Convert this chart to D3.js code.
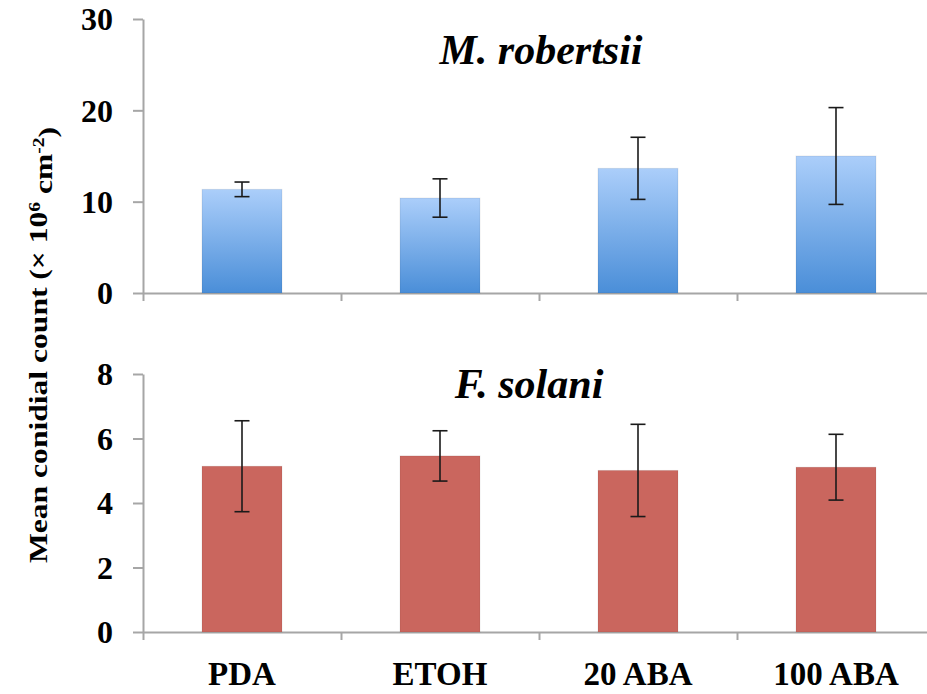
<!DOCTYPE html>
<html>
<head>
<meta charset="utf-8">
<script src="https://cdn.jsdelivr.net/npm/d3@7"></script>
<style>
  body { margin: 0; background: #fff; }
  svg text { font-family: "Liberation Serif", "Times New Roman", serif; font-weight: bold; fill: #000; }
</style>
</head>
<body>
<div id="chart"></div>
<script>
const categories = ["PDA", "ETOH", "20 ABA", "100 ABA"]

const robertsiiMean = [11.35, 10.4, 13.65, 15.0]
const robertsiiErr = [0.8, 2.1, 3.4, 5.3]
const robertsiiTicks = [0, 10, 20, 30]

const solaniMean = [5.14, 5.46, 5.01, 5.11]
const solaniErr = [1.41, 0.78, 1.43, 1.02]
const solaniTicks = [0, 2, 4, 6, 8]

const width = 927
const height = 694
const left = 143
const right = 935

const svg = d3.select("#chart").append("svg")
    .attr("width", width)
    .attr("height", height)

const defs = svg.append("defs")
const grad = defs.append("linearGradient")
    .attr("id", "blueGrad")
    .attr("x1", 0).attr("y1", 0).attr("x2", 0).attr("y2", 1)
grad.append("stop").attr("offset", "0%").attr("stop-color", "#abcefa")
grad.append("stop").attr("offset", "100%").attr("stop-color", "#4a8ed8")

const x = d3.scaleBand()
    .domain(categories)
    .range([left, right])
    .padding(0)

const xIdx = d3.scaleLinear()
    .domain([0, categories.length])
    .range([left, right])

const barW = x.bandwidth() * 0.404

function panel(opts) {
    const y = d3.scaleLinear()
        .domain([0, d3.max(opts.ticks)])
        .range([opts.bottom, opts.top])

    const g = svg.append("g")

    const yAxis = d3.axisLeft(y)
        .tickValues(opts.ticks)
        .tickSizeInner(10)
        .tickSizeOuter(0)
        .tickPadding(20)

    g.append("g")
        .attr("class", "y-axis")
        .attr("transform", `translate(${left},0)`)
        .call(yAxis)

    g.append("g")
        .attr("class", "x-axis")
        .attr("transform", `translate(0,${opts.bottom})`)
        .call(d3.axisBottom(xIdx)
            .tickValues(d3.range(categories.length + 1))
            .tickFormat("")
            .tickSizeInner(8)
            .tickSizeOuter(0))

    g.selectAll(".domain, .tick line")
        .attr("stroke", "#a6a6a6")
        .attr("stroke-width", 2)
    g.selectAll(".y-axis text")
        .style("font-size", "32px")
        .attr("dy", "0.34em")

    const data = categories.map((c, i) => ({ c, v: opts.mean[i], e: opts.err[i] }))

    g.selectAll("rect.bar")
        .data(data)
        .join("rect")
        .attr("class", "bar")
        .attr("x", d => x(d.c) + (x.bandwidth() - barW) / 2)
        .attr("width", barW)
        .attr("y", d => y(d.v))
        .attr("height", d => y(0) - y(d.v))
        .attr("fill", opts.fill)
        .attr("stroke", "rgba(0,0,0,0.08)")
        .attr("stroke-width", 1)

    const cap = 7.5
    const eb = g.selectAll("g.err")
        .data(data)
        .join("g")
        .attr("class", "err")
        .attr("stroke", "#1a1a1a")
        .attr("stroke-width", 1.6)
    eb.append("line")
        .attr("x1", d => x(d.c) + x.bandwidth() / 2)
        .attr("x2", d => x(d.c) + x.bandwidth() / 2)
        .attr("y1", d => y(d.v + d.e))
        .attr("y2", d => y(d.v - d.e))
    eb.append("line")
        .attr("x1", d => x(d.c) + x.bandwidth() / 2 - cap)
        .attr("x2", d => x(d.c) + x.bandwidth() / 2 + cap)
        .attr("y1", d => y(d.v + d.e))
        .attr("y2", d => y(d.v + d.e))
    eb.append("line")
        .attr("x1", d => x(d.c) + x.bandwidth() / 2 - cap)
        .attr("x2", d => x(d.c) + x.bandwidth() / 2 + cap)
        .attr("y1", d => y(d.v - d.e))
        .attr("y2", d => y(d.v - d.e))

    g.append("text")
        .attr("x", opts.titleX)
        .attr("y", opts.titleY)
        .attr("text-anchor", "middle")
        .style("font-size", "42px")
        .style("font-style", "italic")
        .text(opts.title)

    return y
}

panel({ top: 19, bottom: 293, ticks: robertsiiTicks, mean: robertsiiMean, err: robertsiiErr,
    fill: "url(#blueGrad)", title: "M. robertsii", titleX: 541, titleY: 64 })

panel({ top: 374, bottom: 632, ticks: solaniTicks, mean: solaniMean, err: solaniErr,
    fill: "#ca665e", title: "F. solani", titleX: 529, titleY: 398 })

// category labels under the bottom panel
svg.append("g")
    .selectAll("text")
    .data(categories)
    .join("text")
    .attr("x", d => x(d) + x.bandwidth() / 2)
    .attr("y", 685)
    .attr("text-anchor", "middle")
    .style("font-size", "33px")
    .text(d => d)

// y axis title
const yt = svg.append("text")
    .attr("transform", "translate(47,345) rotate(-90)")
    .attr("text-anchor", "middle")
    .attr("textLength", 436)
    .attr("lengthAdjust", "spacingAndGlyphs")
    .style("font-size", "26px")
yt.append("tspan").text("Mean conidial count (× 10")
yt.append("tspan").attr("dy", "-0.45em").style("font-size", "16px").text("6")
yt.append("tspan").attr("dy", "0.45em").text(" cm")
yt.append("tspan").attr("dy", "-0.45em").style("font-size", "16px").text("-2")
yt.append("tspan").attr("dy", "0.45em").text(")")
</script>
</body>
</html>
